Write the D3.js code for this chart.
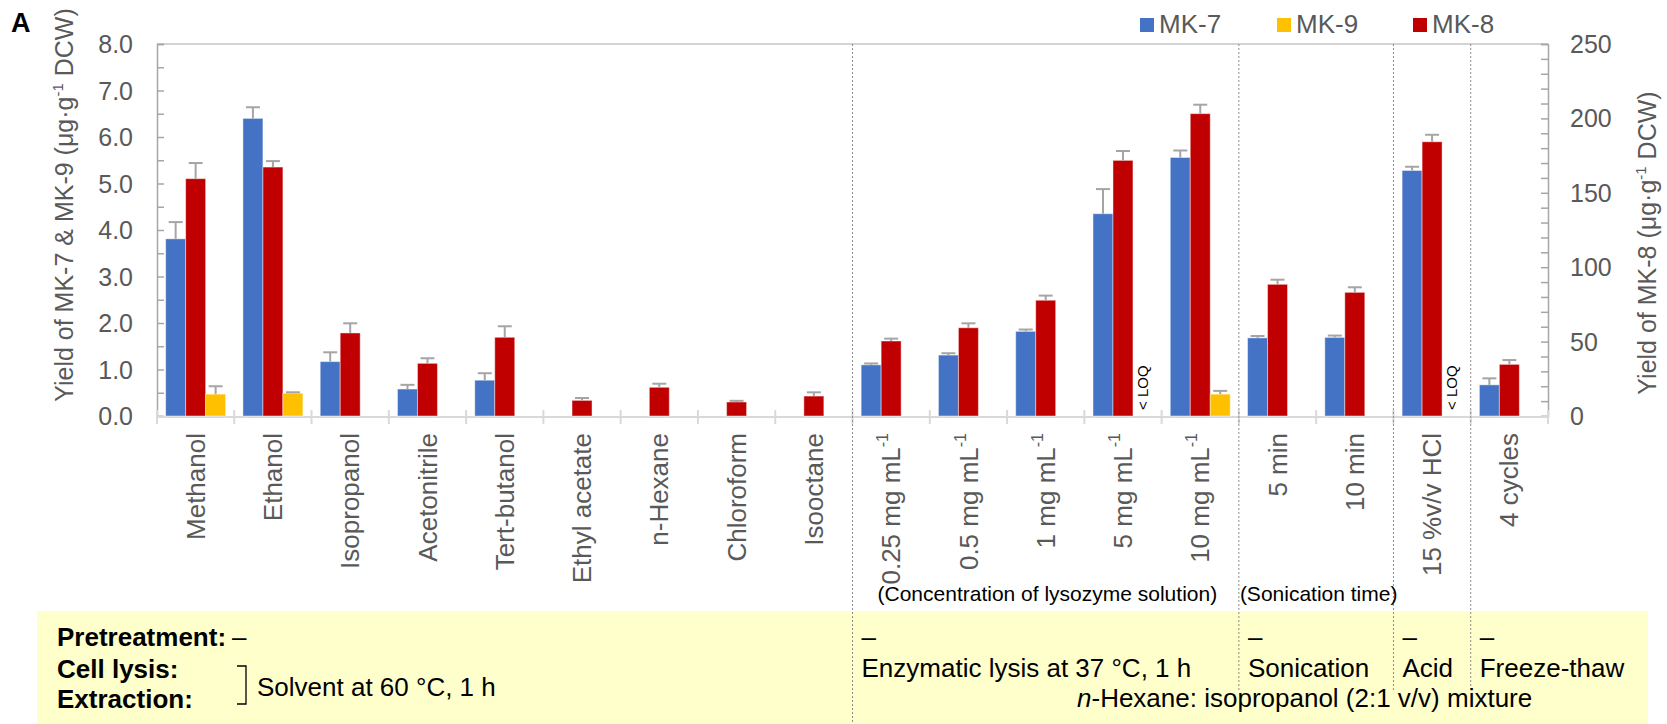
<!DOCTYPE html>
<html>
<head>
<meta charset="utf-8">
<script src="https://cdn.jsdelivr.net/npm/d3@7"></script>
<style>
  html, body { margin: 0; padding: 0; background: #fff; }
  svg { display: block; font-family: "Liberation Sans", Arial, Helvetica, sans-serif; }
</style>
</head>
<body>
<svg id="chart" width="1667" height="724"></svg>
<script>
// ---- Data -------------------------------------------------------------
const categories = [
  "Methanol", "Ethanol", "Isopropanol", "Acetonitrile", "Tert-butanol",
  "Ethyl acetate", "n-Hexane", "Chloroform", "Isooctane",
  "0.25 mg mL-1", "0.5 mg mL-1", "1 mg mL-1", "5 mg mL-1", "10 mg mL-1",
  "5 min", "10 min", "15 %v/v HCl", "4 cycles"
];

// MK-7 and MK-9 on the left axis (µg/g DCW); MK-8 on the right axis
const mk7    = [3.81, 6.40, 1.17, 0.58, 0.77, null, null, null, null, 1.10, 1.31, 1.82, 4.35, 5.56, 1.68, 1.69, 5.28, 0.67];
const mk7Err = [0.36, 0.24, 0.20, 0.09, 0.15, null, null, null, null, 0.03, 0.04, 0.04, 0.53, 0.15, 0.04, 0.04, 0.08, 0.14];
const mk8    = [159.5, 167.3, 55.8, 35.4, 52.9, 10.5, 19.3, 9.4, 13.4, 50.4, 59.3, 77.8, 171.8, 203.2, 88.5, 83.1, 184.3, 34.7];
const mk8Err = [10.5, 4.0, 6.5, 3.4, 7.4, 1.6, 2.4, 0.8, 2.5, 1.6, 3.0, 3.1, 6.3, 6.0, 3.1, 3.4, 4.7, 2.9];
const mk9    = [0.47, 0.49, null, null, null, null, null, null, null, null, null, null, null, 0.47, null, null, null, null];
const mk9Err = [0.17, 0.02, null, null, null, null, null, null, null, null, null, null, null, 0.07, null, null, null, null];
const belowLOQ = ["5 mg mL-1", "15 %v/v HCl"];   // MK-9 not quantifiable

const leftTicks  = [0, 1, 2, 3, 4, 5, 6, 7, 8];
const rightTicks = [0, 50, 100, 150, 200, 250];

const seriesOrder  = ["MK-7", "MK-8", "MK-9"];   // order of bars within a group
const legendOrder  = ["MK-7", "MK-9", "MK-8"];
const colors = { "MK-7": "#4472C4", "MK-9": "#FFC000", "MK-8": "#C00000" };

// group separators: index of first category of each new method
const groupStarts = [9, 14, 16, 17];
const groupLabels = [
  { text: "(Concentration of lysozyme solution)", from: 9 },
  { text: "(Sonication time)", from: 14 }
];
const methodLabels = [
  { from: 9,  text: "Enzymatic lysis at 37 °C, 1 h" },
  { from: 14, text: "Sonication" },
  { from: 16, text: "Acid" },
  { from: 17, text: "Freeze-thaw" }
];

// ---- Layout -----------------------------------------------------------
const svg = d3.select("#chart");
const plot = { left: 157, right: 1548, top: 44, bottom: 416 };
const grey = "#595959";

const x = d3.scaleBand().domain(categories).range([plot.left, plot.right]).padding(0);
const bw = x.bandwidth();
const xs = d3.scaleBand().domain(seriesOrder).range([bw * 0.112, bw * 0.888]).padding(0);
const yL = d3.scaleLinear().domain([0, 8]).range([plot.bottom, plot.top]);
const yR = d3.scaleLinear().domain([0, 250]).range([plot.bottom, plot.top]);

// ---- Yellow condition box ----------------------------------------------
svg.append("rect")
  .attr("x", 37).attr("y", 611).attr("width", 1611).attr("height", 113)
  .attr("fill", "#FFFFCC");

// ---- Axes frame ---------------------------------------------------------
svg.append("line")
  .attr("x1", plot.left).attr("x2", plot.right)
  .attr("y1", plot.top).attr("y2", plot.top)
  .attr("stroke", "#c4c4c4").attr("stroke-width", 1.5);

// left axis with ticks every 0.5 pointing inward
const leftAxis = d3.axisRight(yL).tickValues(d3.range(0, 8.01, 0.5)).tickSize(7).tickFormat("");
svg.append("g").attr("transform", `translate(${plot.left},0)`).call(leftAxis)
  .call(g => g.select(".domain").attr("stroke", "#a6a6a6").attr("stroke-width", 1.5))
  .call(g => g.selectAll(".tick line").attr("stroke", "#a6a6a6").attr("stroke-width", 1.5));

svg.append("g").selectAll("text").data(leftTicks).join("text")
  .attr("x", 133).attr("y", d => yL(d)).attr("dy", "0.36em")
  .attr("text-anchor", "end").attr("font-size", 25).attr("fill", grey)
  .text(d => d3.format(".1f")(d));

// right axis with ticks every 10 pointing inward
const rightAxis = d3.axisLeft(yR).tickValues(d3.range(0, 250.1, 10)).tickSize(7).tickFormat("");
svg.append("g").attr("transform", `translate(${plot.right},0)`).call(rightAxis)
  .call(g => g.select(".domain").attr("stroke", "#a6a6a6").attr("stroke-width", 1.5))
  .call(g => g.selectAll(".tick line").attr("stroke", "#a6a6a6").attr("stroke-width", 1.5));

svg.append("g").selectAll("text").data(rightTicks).join("text")
  .attr("x", 1570).attr("y", d => yR(d)).attr("dy", "0.36em")
  .attr("text-anchor", "start").attr("font-size", 25).attr("fill", grey)
  .text(d => d);

// bottom axis line and category separators
svg.append("line")
  .attr("x1", plot.left).attr("x2", plot.right)
  .attr("y1", plot.bottom + 1).attr("y2", plot.bottom + 1)
  .attr("stroke", "#d9d9d9").attr("stroke-width", 2);
const boundaries = categories.map(c => x(c)).concat([plot.right]);
svg.append("g").selectAll("line").data(boundaries).join("line")
  .attr("x1", d => d).attr("x2", d => d)
  .attr("y1", plot.bottom - 6).attr("y2", plot.bottom + 8)
  .attr("stroke", "#d9d9d9").attr("stroke-width", 2);

// ---- Axis titles ---------------------------------------------------------
function yTitle(g, cx, cy, main, tail) {
  const t = g.append("text")
    .attr("transform", `translate(${cx},${cy}) rotate(-90)`)
    .attr("text-anchor", "middle").attr("font-size", 25).attr("fill", grey);
  t.append("tspan").text(main);
  t.append("tspan").attr("font-size", 15).attr("dy", -10).text("-1");
  t.append("tspan").attr("dy", 10).text(tail);
}
yTitle(svg, 73, 205, "Yield of MK-7 & MK-9 (μg·g", " DCW)");
yTitle(svg, 1656, 243, "Yield of MK-8 (μg·g", " DCW)");

svg.append("text").attr("x", 11).attr("y", 32)
  .attr("font-size", 27).attr("font-weight", "bold").attr("fill", "#000").text("A");

// ---- Bars ------------------------------------------------------------------
const rows = categories.map((c, i) => ({
  cat: c,
  vals: [
    { s: "MK-7", v: mk7[i], e: mk7Err[i], y: yL },
    { s: "MK-8", v: mk8[i], e: mk8Err[i], y: yR },
    { s: "MK-9", v: mk9[i], e: mk9Err[i], y: yL }
  ].filter(d => d.v != null)
}));

const groups = svg.append("g").selectAll("g").data(rows).join("g")
  .attr("transform", d => `translate(${x(d.cat)},0)`);

groups.selectAll("rect").data(d => d.vals).join("rect")
  .attr("x", d => xs(d.s))
  .attr("width", xs.bandwidth())
  .attr("y", d => d.y(d.v))
  .attr("height", d => d.y(0) - d.y(d.v))
  .attr("fill", d => colors[d.s])
  .attr("stroke", "#ffffff").attr("stroke-opacity", 0.45).attr("stroke-width", 1);

// error bars (upper whisker only)
const errs = groups.selectAll("g.err").data(d => d.vals.filter(v => v.e != null)).join("g")
  .attr("class", "err");
errs.append("line")
  .attr("x1", d => xs(d.s) + xs.bandwidth() / 2).attr("x2", d => xs(d.s) + xs.bandwidth() / 2)
  .attr("y1", d => d.y(d.v)).attr("y2", d => d.y(d.v + d.e))
  .attr("stroke", "#a5a5a5").attr("stroke-width", 2);
errs.append("line")
  .attr("x1", d => xs(d.s) + xs.bandwidth() / 2 - 7).attr("x2", d => xs(d.s) + xs.bandwidth() / 2 + 7)
  .attr("y1", d => d.y(d.v + d.e)).attr("y2", d => d.y(d.v + d.e))
  .attr("stroke", "#a5a5a5").attr("stroke-width", 2);

// below limit of quantification markers for MK-9
svg.append("g").selectAll("text").data(belowLOQ).join("text")
  .attr("transform", d => `translate(${x(d) + xs("MK-9") + xs.bandwidth() / 2},${plot.bottom - 6}) rotate(-90)`)
  .attr("dy", "0.35em").attr("font-size", 15).attr("fill", "#000")
  .text("< LOQ");

// ---- Category labels ---------------------------------------------------------
const xl = svg.append("g").selectAll("text").data(categories).join("text")
  .attr("transform", d => `translate(${x(d) + bw / 2},433) rotate(-90)`)
  .attr("text-anchor", "end").attr("dy", "0.35em")
  .attr("font-size", 26).attr("fill", grey);
xl.each(function (d) {
  const t = d3.select(this);
  if (d.endsWith("-1")) {
    t.append("tspan").text(d.slice(0, -2));
    t.append("tspan").attr("font-size", 16).attr("dy", "-0.75em").text("-1");
  } else {
    t.text(d);
  }
});

// ---- Method separators -----------------------------------------------------------
svg.append("g").selectAll("line").data(groupStarts).join("line")
  .attr("x1", d => x(categories[d])).attr("x2", d => x(categories[d]))
  .attr("y1", plot.top).attr("y2", (d, i) => i === 0 ? 724 : 690)
  .attr("stroke", "#8c8c8c").attr("stroke-width", 1).attr("stroke-dasharray", "2,2");

svg.append("g").selectAll("text").data(groupLabels).join("text")
  .attr("x", d => x(categories[d.from]) + (d.from === 9 ? 25 : 1)).attr("y", 601)
  .attr("font-size", 21).attr("fill", "#000").text(d => d.text);

// ---- Condition box text ---------------------------------------------------------
const box = svg.append("g").attr("fill", "#000").attr("font-size", 26);
[["Pretreatment:", 646], ["Cell lysis:", 678], ["Extraction:", 708]].forEach(([t, yy]) => {
  box.append("text").attr("x", 57).attr("y", yy).attr("font-weight", "bold").text(t);
});
box.append("text").attr("x", 232).attr("y", 646).text("–");
box.append("path")
  .attr("d", "M237,666 H246 V704 H237")
  .attr("fill", "none").attr("stroke", "#000").attr("stroke-width", 1.3);
box.append("text").attr("x", 257).attr("y", 696).text("Solvent at 60 °C, 1 h");

methodLabels.forEach(m => {
  const x0 = x(categories[m.from]) + 9;
  box.append("text").attr("x", x0).attr("y", 646).text("–");
  box.append("text").attr("x", x0).attr("y", 677).text(m.text);
});
const hex = box.append("text").attr("x", 1077).attr("y", 707);
hex.append("tspan").attr("font-style", "italic").text("n");
hex.append("tspan").text("-Hexane: isopropanol (2:1 v/v) mixture");

// ---- Legend -------------------------------------------------------------------------
const legendX = { "MK-7": 1140, "MK-9": 1277, "MK-8": 1413 };
const lg = svg.append("g").selectAll("g").data(legendOrder).join("g")
  .attr("transform", d => `translate(${legendX[d]},18)`);
lg.append("rect").attr("width", 14).attr("height", 14).attr("fill", d => colors[d]);
lg.append("text").attr("x", 19).attr("y", 15).attr("font-size", 26).attr("fill", grey).text(d => d);
</script>
</body>
</html>
